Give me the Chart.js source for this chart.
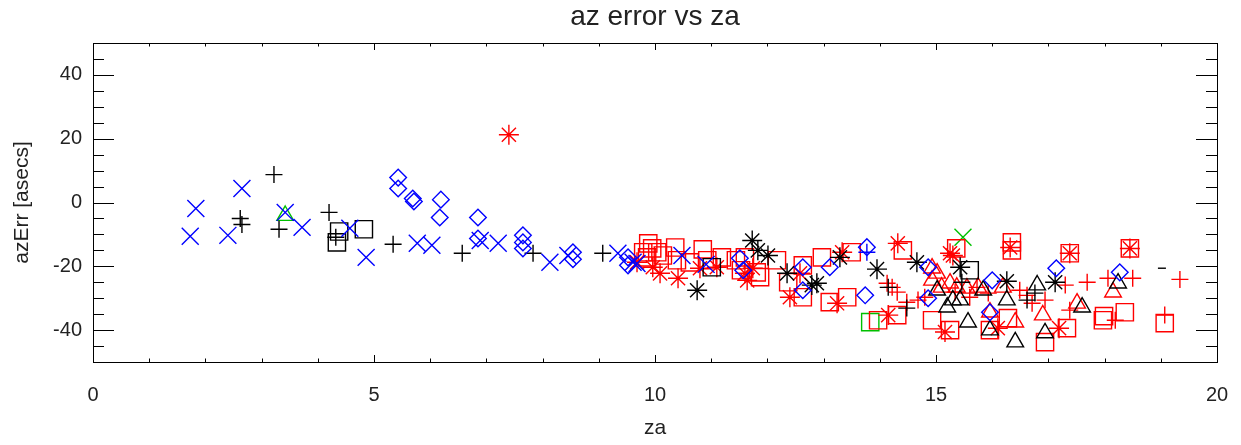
<!DOCTYPE html>
<html>
<head>
<meta charset="utf-8">
<script src="https://cdn.jsdelivr.net/npm/chart.js@4"></script>
<style>
  html, body { margin: 0; padding: 0; background: #fff; }
  #wrap { width: 1241px; height: 445px; }
</style>
</head>
<body>
<div id="wrap"><canvas id="chart" width="1241" height="445"></canvas></div>
<script>
// axis ticks
const xTicks = [0, 5, 10, 15, 20];
const yTicks = [-40, -20, 0, 20, 40];

// [za, azErr] per marker group
const blueX = [[1.73,-10.6],[1.83,-1.9],[2.65,4.4],[2.40,-10.3],[3.42,-3.1],[3.72,-7.8],[4.57,-8.1],[4.86,-17.2],
  [5.77,-12.8],[6.03,-13.4],[6.89,-11.9],[7.21,-12.8],[8.13,-18.7],[8.45,-16.6],[9.34,-15.9],[9.68,-19.1],
  [9.61,-18.75],[10.48,-16.6],[10.91,-19.4]];
const blueDiamond = [[5.43,7.8],[5.43,4.4],[5.69,1.25],[5.71,0.3],[6.19,0.9],[6.17,-4.7],[6.85,-4.7],[6.85,-11.3],
  [7.65,-10.3],[7.65,-12.5],[7.65,-14.4],[8.54,-15.6],[8.54,-17.8],[9.52,-17.2],[9.52,-19.7],[11.51,-17.5],
  [11.57,-21.25],[12.63,-20.3],[12.63,-27.5],[13.11,-20.3],[13.77,-14],[13.74,-29.1],[14.86,-20.3],[14.86,-30],
  [16.0,-24.4],[15.96,-34.4],[17.14,-20.6],[18.27,-21.9]];
const bluePlus = [[13.77,-15.6]];
const blackPlus = [[3.22,8.75],[2.62,-5],[2.65,-6.9],[3.31,-8.4],[4.2,-3.1],[4.32,-10.9],[5.34,-13.1],[6.57,-15.9],
  [7.83,-15.9],[9.07,-15.9],[14.15,-26.6],[14.48,-33.1],[15.46,-25],[16.62,-30.6],[16.76,-28.4]];
const blackSquare = [[4.38,-9.1],[4.34,-12.5],[4.82,-8.4],[11.01,-20.3],[15.6,-21.25]];
const blackStar = [[10.75,-27.5],[11.73,-11.9],[11.83,-15],[12.01,-16.6],[12.35,-22.2],[12.79,-25.9],[12.88,-25.3],
  [13.29,-17.2],[13.95,-20.9],[14.66,-18.75],[15.43,-20.3],[16.26,-24.7],[17.12,-25]];
const blackTriangle = [[15.02,-27.5],[15.3,-30.6],[15.2,-32.8],[15.43,-30.6],[15.57,-37.5],[15.84,-27.5],[15.96,-40],
  [16.26,-30.6],[16.41,-43.75],[16.8,-25.9],[16.94,-40.9],[17.6,-32.8],[18.24,-25.3]];
const blackDash = [[19.02,-20.6]];
const redSquare = [[9.88,-12.8],[9.95,-14.4],[10.04,-15.6],[9.79,-15.6],[9.86,-17.2],[10.14,-16.6],[10.36,-14.1],
  [10.39,-18.1],[10.62,-18.75],[10.85,-14.7],[10.93,-18.1],[11.19,-17.2],[11.44,-18.1],[11.53,-21.25],[11.6,-17.2],
  [11.81,-21.9],[11.87,-23.4],[12.17,-18.1],[12.37,-25],[12.63,-19.7],[12.97,-17.2],[12.63,-29.7],[13.11,-31.25],
  [13.42,-29.7],[13.5,-15.6],[13.97,-36.9],[14.31,-35.3],[14.41,-15],[14.93,-36.9],[15.25,-40],[15.36,-14.4],
  [16.35,-12.5],[16.35,-15],[16.28,-36.25],[15.96,-40],[16.94,-43.75],[17.33,-39.4],[17.38,-15.9],[18.45,-14.4],
  [17.97,-36.9],[17.99,-35.6],[18.36,-34.4],[19.07,-37.8]];
const redStar = [[7.40,21.25],[9.68,-18.75],[9.96,-20.3],[10.09,-22.2],[10.41,-23.75],[10.8,-20.6],[11.1,-20.3],
  [11.6,-22.2],[11.64,-24.4],[11.74,-20.6],[12.4,-29.7],[12.58,-22.2],[13.24,-31.6],[13.33,-15.6],[14.32,-12.8],
  [14.15,-35.3],[15.25,-15.9],[15.16,-40.6],[15.3,-16.6],[16.32,-14.1],[16.1,-39.4],[17.19,-39.4],[17.38,-15.9],
  [18.45,-14.4]];
const redPlus = [[14.13,-25.3],[14.22,-26.6],[14.31,-28.1],[14.48,-31.25],[14.68,-30.6],[14.8,-29.7],[15.34,-28.1],
  [15.6,-29.7],[15.73,-26.6],[15.93,-28.4],[16.49,-27.5],[16.62,-29.1],[16.71,-31.6],[16.94,-30.6],[17.3,-25.9],
  [17.38,-33.75],[17.69,-25],[18.06,-23.75],[18.19,-36.9],[18.5,-23.75],[19.07,-35.3],[19.34,-24.1]];
const redTriangle = [[14.93,-20.6],[15.02,-22.2],[14.93,-24.4],[15.1,-26.6],[15.25,-25.3],[15.37,-26.6],[15.55,-26.9],
  [15.75,-26.6],[15.96,-34.4],[16.19,-26.6],[16.41,-37.5],[16.9,-35.3],[17.51,-31.6],[18.15,-28.1]];
const greenTriangle = [[3.42,-4.1]];
const greenSquare = [[13.83,-37.5]];
const greenX = [[15.48,-10.9]];

const FONT = "'Liberation Sans', Arial, sans-serif";

function ds(points, style, color, radius) {
  return {
    data: points.map(p => ({ x: p[0], y: p[1] })),
    pointStyle: style,
    pointRadius: radius,
    pointHoverRadius: radius,
    pointBorderColor: color,
    pointBackgroundColor: 'rgba(0,0,0,0)',
    pointBorderWidth: 1.4,
    showLine: false
  };
}

// IDL-style box with inward ticks on all sides
const boxTicks = {
  id: 'boxTicks',
  afterDraw(chart) {
    const { ctx, chartArea: a, scales: { x, y } } = chart;
    ctx.save();
    ctx.strokeStyle = '#000';
    ctx.lineWidth = 1;
    ctx.strokeRect(a.left + 0.5, a.top + 0.5, a.right - a.left, a.bottom - a.top);
    ctx.beginPath();
    for (let v = 0; v <= 20; v += 1) {
      const px = Math.round(x.getPixelForValue(v)) + 0.5;
      const len = v % 5 === 0 ? 7 : 3.5;
      ctx.moveTo(px, a.bottom); ctx.lineTo(px, a.bottom - len);
      ctx.moveTo(px, a.top); ctx.lineTo(px, a.top + len);
    }
    for (let v = -50; v <= 50; v += 5) {
      const py = Math.round(y.getPixelForValue(v)) + 0.5;
      const len = v % 20 === 0 ? 21 : 11;
      ctx.moveTo(a.left, py); ctx.lineTo(a.left + len, py);
      ctx.moveTo(a.right, py); ctx.lineTo(a.right - len, py);
    }
    ctx.stroke();
    ctx.restore();
  }
};

new Chart(document.getElementById('chart'), {
  type: 'scatter',
  data: {
    datasets: [
      ds(blueX, 'crossRot', '#0000ff', 12),
      ds(blueDiamond, 'rectRot', '#0000ff', 8.3),
      ds(bluePlus, 'cross', '#0000ff', 8.5),
      ds(blackPlus, 'cross', '#000000', 8.5),
      ds(blackSquare, 'rect', '#000000', 12.2),
      ds(blackStar, 'star', '#000000', 10),
      ds(blackTriangle, 'triangle', '#000000', 9.6),
      ds(blackDash, 'line', '#000000', 4),
      ds(redSquare, 'rect', '#ff0000', 12.2),
      ds(redStar, 'star', '#ff0000', 10),
      ds(redPlus, 'cross', '#ff0000', 8.5),
      ds(redTriangle, 'triangle', '#ff0000', 9.6),
      ds(greenTriangle, 'triangle', '#00c000', 9.6),
      ds(greenSquare, 'rect', '#00c000', 12.2),
      ds(greenX, 'crossRot', '#00c000', 12)
    ]
  },
  options: {
    responsive: false,
    animation: false,
    events: [],
    layout: { padding: { left: 0, right: 24, top: 0, bottom: 0 } },
    plugins: {
      legend: { display: false },
      tooltip: { enabled: false },
      title: {
        display: true,
        fullSize: false,
        text: 'az error vs za',
        color: '#222',
        font: { family: FONT, size: 28, weight: 'normal' },
        padding: { top: 0.2, bottom: 9.2 }
      }
    },
    scales: {
      x: {
        type: 'linear',
        min: 0, max: 20,
        afterBuildTicks: s => { s.ticks = xTicks.map(v => ({ value: v })); },
        afterFit: s => { s.height = 83; s.paddingLeft = 0; s.paddingRight = 0; },
        grid: { display: false, drawTicks: false },
        border: { display: false },
        ticks: { color: '#222', padding: 21, maxRotation: 0, font: { family: FONT, size: 20 } },
        title: { display: true, text: 'za', color: '#222', padding: { top: 0, bottom: 4 }, font: { family: FONT, size: 21 } }
      },
      y: {
        type: 'linear',
        min: -50, max: 50,
        afterBuildTicks: s => { s.ticks = yTicks.map(v => ({ value: v })); },
        afterFit: s => { s.width = 93; },
        grid: { display: false, drawTicks: false },
        border: { display: false },
        ticks: { color: '#222', padding: 11, font: { family: FONT, size: 20 } },
        title: { display: true, text: 'azErr [asecs]', color: '#222', padding: { top: 10, bottom: 0 }, font: { family: FONT, size: 21 } }
      }
    }
  },
  plugins: [boxTicks]
});
</script>
</body>
</html>
